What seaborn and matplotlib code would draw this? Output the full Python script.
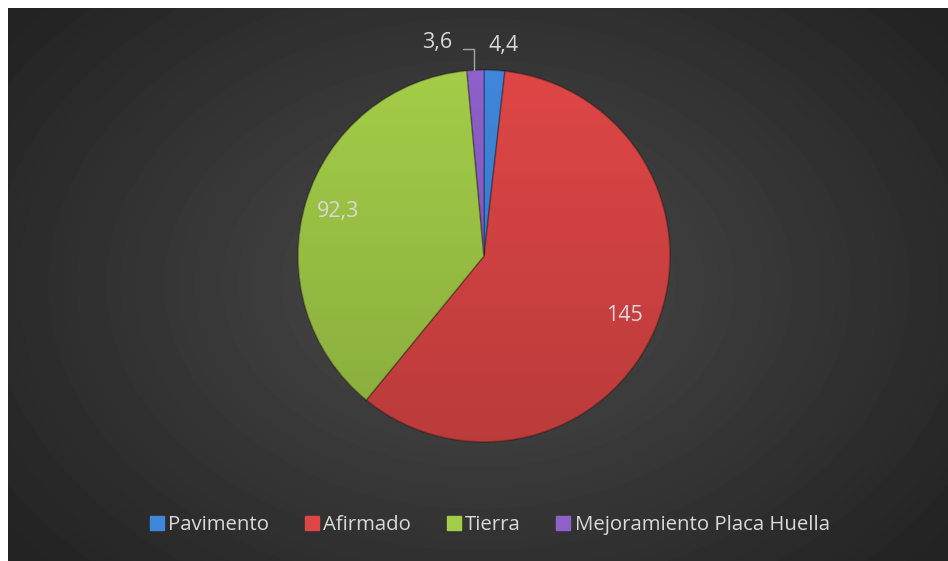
import numpy as np
import matplotlib.pyplot as plt
import seaborn as sns
from matplotlib.lines import Line2D
from matplotlib.patches import Circle

categories = ['Pavimento', 'Afirmado', 'Tierra', 'Mejoramiento Placa Huella']
values = [4.4, 145, 92.3, 3.6]
value_labels = ['4,4', '145', '92,3', '3,6']
colors = ['#3f86dc', '#de4646', '#a3cc48', '#8e60ca']

sns.set_style('dark')
plt.rcParams['font.family'] = ['Open Sans', 'DejaVu Sans']

W, H = 948, 561
fig = plt.figure(figsize=(W / 100, H / 100), dpi=100, facecolor='white')

# background panel with radial gradient
bg = fig.add_axes([8 / W, 0, (W - 8) / W, (H - 8) / H])
bg.set_axis_off()
yy, xx = np.mgrid[0:H - 8, 0:W - 8]
cx, cy = 470, 276
d = np.sqrt(((xx - cx) / 560) ** 2 + ((yy - cy) / 400) ** 2)
g = np.clip(0.295 - 0.15 * d, 0.14, 0.3)
bg.imshow(g, cmap='gray', vmin=0, vmax=1, aspect='auto', extent=[0, 1, 0, 1])

# pie axes, centre at (484, 256) px, radius 186 px
R = 186
k = 1.35
ax = fig.add_axes([(484 - R * k) / W, (H - 256 - R * k) / H, 2 * R * k / W, 2 * R * k / H])

wedges, _ = ax.pie(values, colors=colors, startangle=90, counterclock=False,
                   wedgeprops=dict(linewidth=1.2, edgecolor=(0, 0, 0, 0.25)))
ax.set_xlim(-k, k)
ax.set_ylim(-k, k)
ax.set_axis_off()
ax.patch.set_alpha(0)

# soft shading over the pie, darker towards the bottom
shade = np.zeros((200, 2, 4))
shade[:, :, 3] = np.linspace(0.16, 0.0, 200)[:, None]
im = ax.imshow(shade, extent=[-1, 1, -1, 1], origin='lower', aspect='auto', zorder=3)
im.set_clip_path(Circle((0, 0), 1.0, transform=ax.transData))
ax.set_xlim(-k, k)
ax.set_ylim(-k, k)

label_color = '#d9d9d9'
for w, lab, v in zip(wedges, value_labels, values):
    mid = np.deg2rad((w.theta1 + w.theta2) / 2)
    if v > 20:
        r = 0.82
        ax.text(r * np.cos(mid), r * np.sin(mid), lab, color=label_color,
                fontsize=15.5, ha='center', va='center', zorder=4)

# small slices outside
ax.text(0.105, 1.13, value_labels[0], color=label_color, fontsize=15.5, ha='center', va='center')
ax.text(-0.25, 1.15, value_labels[3], color=label_color, fontsize=15.5, ha='center', va='center')
ax.plot([-0.055, -0.055, -0.115], [1.0, 1.115, 1.115], color='#a6a6a6', lw=1)

handles = [Line2D([], [], marker='s', linestyle='', markersize=10,
                  markerfacecolor=c, markeredgecolor=c) for c in colors]
fig.legend(handles, categories, loc='center', bbox_to_anchor=(488 / W, 1 - 525 / H),
           ncol=4, frameon=False, fontsize=14.7, labelcolor=label_color,
           handletextpad=0.05, columnspacing=1.6, handlelength=1.0)

fig.savefig('out.png', dpi=100)
